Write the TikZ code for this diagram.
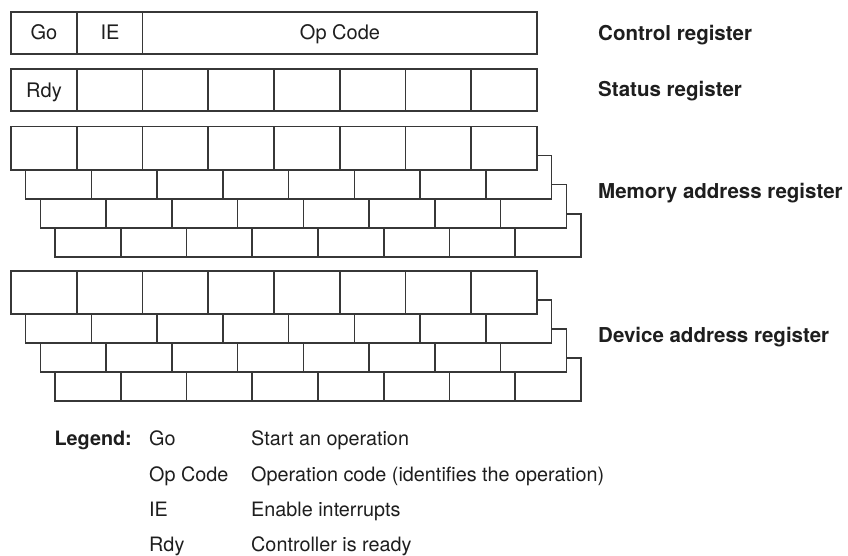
\documentclass[tikz,border=0pt]{standalone}
\usepackage{fontspec}
\setmainfont{TeX Gyre Heros}
\definecolor{linec}{RGB}{55,55,55}
\definecolor{textc}{RGB}{30,30,30}
\begin{document}
\begin{tikzpicture}[x=1pt,y=-1pt,
  reg/.style={draw=linec, line width=1.6pt, fill=white},
  cellsep/.style={draw=linec, line width=1.6pt},
  celltext/.style={font=\fontsize{20}{23}\selectfont, text=textc, anchor=base, inner sep=0pt},
  lbl/.style={font=\fontsize{20.5}{23}\selectfont\bfseries, text=textc, anchor=base west, inner sep=0pt},
  leg/.style={font=\fontsize{19.8}{23}\selectfont, text=textc, anchor=base west, inner sep=0pt}]
\useasboundingbox (0,0) rectangle (848,556);
\fill[white] (0,0) rectangle (848,556);

% Control register
\draw[reg] (11,12) rectangle (537,54);
\draw[cellsep] (77,12) -- (77,54);
\draw[cellsep] (142.5,12) -- (142.5,54);
\node[celltext] (go) at (44,39.5) {Go};
\node[celltext] (ie) at (110,39.5) {IE};
\node[celltext] (opcode) at (340,39.5) {Op Code};

% Status register
\draw[reg] (11,69) rectangle (537,111);
\foreach \i in {1,...,7} \draw[cellsep] (11+65.75*\i,69) -- (11+65.75*\i,111);
\node[celltext] (rdy) at (44,98) {Rdy};

% Memory address register stack
\foreach \k in {3,2,1,0} {
  \pgfmathsetmacro\dx{14.65*\k}
  \pgfmathsetmacro\dy{126.7+29*\k}
  \draw[reg] (11+\dx,\dy) rectangle (537+\dx,\dy+43.3);
  \foreach \i in {1,...,7} \draw[cellsep] (11+\dx+65.75*\i,\dy) -- (11+\dx+65.75*\i,\dy+43.3);
}

% Device address register stack
\foreach \k in {3,2,1,0} {
  \pgfmathsetmacro\dx{14.65*\k}
  \pgfmathsetmacro\dy{270.7+29*\k}
  \draw[reg] (11+\dx,\dy) rectangle (537+\dx,\dy+43.3);
  \foreach \i in {1,...,7} \draw[cellsep] (11+\dx+65.75*\i,\dy) -- (11+\dx+65.75*\i,\dy+43.3);
}

% Register labels
\node[lbl] (lctrl) at (598,41) {Control register};
\node[lbl] (lstat) at (598,97) {Status register};
\node[lbl] (lmem) at (598,198) {Memory address register};
\node[lbl] (ldev) at (598,342.5) {Device address register};

% Legend
\node[lbl, font=\fontsize{19.8}{23}\selectfont\bfseries, anchor=base east] (legend) at (132,445.7) {Legend:};
\node[leg] (lgo) at (149,445.7) {Go};
\node[leg] (lop) at (149,481) {Op Code};
\node[leg] (lie) at (149,516.5) {IE};
\node[leg] (lrdy) at (149,551.5) {Rdy};
\node[leg] (dgo) at (251,445.7) {Start an operation};
\node[leg] (dop) at (251,481) {Operation code (identifies the operation)};
\node[leg] (die) at (251,516.5) {Enable interrupts};
\node[leg] (drdy) at (251,551.5) {Controller is ready};
\end{tikzpicture}
\end{document}
